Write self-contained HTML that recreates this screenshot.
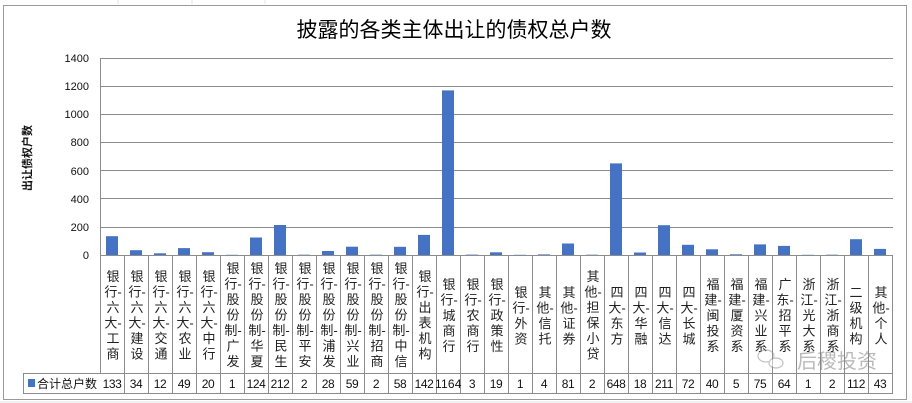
<!DOCTYPE html>
<html><head><meta charset="utf-8"><style>
body{margin:0;background:#fff}
svg{display:block;font-family:"Liberation Sans","Noto Sans CJK SC",sans-serif}
.l{font-size:13px;text-anchor:middle;fill:#222}
.v{font-size:12px;text-anchor:middle;fill:#111;letter-spacing:-0.4px}
.t{font-size:11px;text-anchor:end;fill:#111}
</style></head><body>
<svg width="912" height="403" viewBox="0 0 912 403">
<rect width="912" height="403" fill="#fff"/>
<g stroke="#e3e3e3" stroke-width="1">
<line x1="118" y1="0" x2="118" y2="4"/><line x1="192" y1="0" x2="192" y2="4"/><line x1="265" y1="0" x2="265" y2="4"/><line x1="0" y1="402" x2="912" y2="402"/>
</g>
<rect x="3.5" y="5.5" width="903" height="394" fill="#fff" stroke="#9a9a9a"/>
<text x="454" y="37" font-size="21" text-anchor="middle" fill="#000">披露的各类主体出让的债权总户数</text>
<text transform="translate(31,158) rotate(-90)" font-size="11" font-weight="bold" text-anchor="middle" fill="#111">出让债权户数</text>
<g stroke="#8c8c8c" stroke-width="1">
<line x1="100" y1="58.5" x2="893" y2="58.5"/><line x1="100" y1="86.5" x2="893" y2="86.5"/>
<line x1="100" y1="114.5" x2="893" y2="114.5"/><line x1="100" y1="142.5" x2="893" y2="142.5"/>
<line x1="100" y1="170.5" x2="893" y2="170.5"/><line x1="100" y1="198.5" x2="893" y2="198.5"/>
<line x1="100" y1="227.5" x2="893" y2="227.5"/><line x1="100" y1="255.5" x2="893" y2="255.5"/>
<line x1="100.5" y1="58" x2="100.5" y2="373"/>
<line x1="23" y1="373.5" x2="893" y2="373.5"/><line x1="23" y1="393.5" x2="893" y2="393.5"/>
<line x1="23.5" y1="373" x2="23.5" y2="393"/>
</g>
<g class="t">
<text x="89" y="62" class="t">1400</text><text x="89" y="90" class="t">1200</text><text x="89" y="118" class="t">1000</text>
<text x="89" y="146" class="t">800</text><text x="89" y="175" class="t">600</text><text x="89" y="203" class="t">400</text>
<text x="89" y="231" class="t">200</text><text x="89" y="259" class="t">0</text>
</g>
<rect x="28" y="379" width="7" height="8" fill="#4472c4"/>
<text x="37" y="388" font-size="12" fill="#111" textLength="60">合计总户数</text>
<g stroke="#8c8c8c">
<path d="M124.5 256V393M148.5 256V393M172.5 256V393M196.5 256V393M220.5 256V393M244.5 256V393M268.5 256V393M292.5 256V393M316.5 256V393M340.5 256V393M364.5 256V393M388.5 256V393M412.5 256V393M436.5 256V393M460.5 256V393M484.5 256V393M508.5 256V393M532.5 256V393M556.5 256V393M580.5 256V393M604.5 256V393M628.5 256V393M652.5 256V393M676.5 256V393M700.5 256V393M724.5 256V393M748.5 256V393M772.5 256V393M796.5 256V393M820.5 256V393M844.5 256V393M868.5 256V393M892.5 256V393"/>
</g>
<g fill="#4472c4">
<rect x="106" y="236.2" width="12" height="18.8"/>
<rect x="130" y="250.2" width="12" height="4.8"/>
<rect x="154" y="253.3" width="12" height="1.7"/>
<rect x="178" y="248.1" width="12" height="6.9"/>
<rect x="202" y="252.2" width="12" height="2.8"/>
<rect x="226" y="254.8" width="12" height="0.3"/>
<rect x="250" y="237.5" width="12" height="17.5"/>
<rect x="274" y="225" width="12" height="30"/>
<rect x="298" y="254.7" width="12" height="0.3"/>
<rect x="322" y="251" width="12" height="4"/>
<rect x="346" y="246.7" width="12" height="8.3"/>
<rect x="370" y="254.7" width="12" height="0.3"/>
<rect x="394" y="246.8" width="12" height="8.2"/>
<rect x="418" y="234.9" width="12" height="20.1"/>
<rect x="442" y="90.4" width="12" height="164.6"/>
<rect x="466" y="254.6" width="12" height="0.4"/>
<rect x="490" y="252.3" width="12" height="2.7"/>
<rect x="514" y="254.8" width="12" height="0.3"/>
<rect x="538" y="254.4" width="12" height="0.6"/>
<rect x="562" y="243.5" width="12" height="11.5"/>
<rect x="586" y="254.7" width="12" height="0.3"/>
<rect x="610" y="163.4" width="12" height="91.6"/>
<rect x="634" y="252.5" width="12" height="2.5"/>
<rect x="658" y="225.2" width="12" height="29.8"/>
<rect x="682" y="244.8" width="12" height="10.2"/>
<rect x="706" y="249.3" width="12" height="5.7"/>
<rect x="730" y="254.3" width="12" height="0.7"/>
<rect x="754" y="244.4" width="12" height="10.6"/>
<rect x="778" y="245.9" width="12" height="9.1"/>
<rect x="802" y="254.8" width="12" height="0.3"/>
<rect x="826" y="254.7" width="12" height="0.3"/>
<rect x="850" y="239.2" width="12" height="15.8"/>
<rect x="874" y="248.9" width="12" height="6.1"/>
</g>
<g class="v">
<text x="112" y="388">133</text><text x="136" y="388">34</text><text x="160" y="388">12</text><text x="184" y="388">49</text><text x="208" y="388">20</text><text x="232" y="388">1</text><text x="256" y="388">124</text><text x="280" y="388">212</text><text x="304" y="388">2</text><text x="328" y="388">28</text><text x="352" y="388">59</text><text x="376" y="388">2</text><text x="400" y="388">58</text><text x="424" y="388">142</text><text x="448" y="388" textLength="26">1164</text><text x="472" y="388">3</text><text x="496" y="388">19</text><text x="520" y="388">1</text><text x="544" y="388">4</text><text x="568" y="388">81</text><text x="592" y="388">2</text><text x="616" y="388">648</text><text x="640" y="388">18</text><text x="664" y="388">211</text><text x="688" y="388">72</text><text x="712" y="388">40</text><text x="736" y="388">5</text><text x="760" y="388">75</text><text x="784" y="388">64</text><text x="808" y="388">1</text><text x="832" y="388">2</text><text x="856" y="388">112</text><text x="880" y="388">43</text>
</g>
<g class="l">
<text x="113" y="281">银<tspan x="113" dy="15.5">行-</tspan><tspan x="113" dy="15.5">六</tspan><tspan x="113" dy="15.5">大-</tspan><tspan x="113" dy="15.5">工</tspan><tspan x="113" dy="15.5">商</tspan></text>
<text x="137" y="281">银<tspan x="137" dy="15.5">行-</tspan><tspan x="137" dy="15.5">六</tspan><tspan x="137" dy="15.5">大-</tspan><tspan x="137" dy="15.5">建</tspan><tspan x="137" dy="15.5">设</tspan></text>
<text x="161" y="281">银<tspan x="161" dy="15.5">行-</tspan><tspan x="161" dy="15.5">六</tspan><tspan x="161" dy="15.5">大-</tspan><tspan x="161" dy="15.5">交</tspan><tspan x="161" dy="15.5">通</tspan></text>
<text x="185" y="281">银<tspan x="185" dy="15.5">行-</tspan><tspan x="185" dy="15.5">六</tspan><tspan x="185" dy="15.5">大-</tspan><tspan x="185" dy="15.5">农</tspan><tspan x="185" dy="15.5">业</tspan></text>
<text x="209" y="281">银<tspan x="209" dy="15.5">行-</tspan><tspan x="209" dy="15.5">六</tspan><tspan x="209" dy="15.5">大-</tspan><tspan x="209" dy="15.5">中</tspan><tspan x="209" dy="15.5">行</tspan></text>
<text x="233" y="273">银<tspan x="233" dy="15.5">行-</tspan><tspan x="233" dy="15.5">股</tspan><tspan x="233" dy="15.5">份</tspan><tspan x="233" dy="15.5">制-</tspan><tspan x="233" dy="15.5">广</tspan><tspan x="233" dy="15.5">发</tspan></text>
<text x="257" y="273">银<tspan x="257" dy="15.5">行-</tspan><tspan x="257" dy="15.5">股</tspan><tspan x="257" dy="15.5">份</tspan><tspan x="257" dy="15.5">制-</tspan><tspan x="257" dy="15.5">华</tspan><tspan x="257" dy="15.5">夏</tspan></text>
<text x="281" y="273">银<tspan x="281" dy="15.5">行-</tspan><tspan x="281" dy="15.5">股</tspan><tspan x="281" dy="15.5">份</tspan><tspan x="281" dy="15.5">制-</tspan><tspan x="281" dy="15.5">民</tspan><tspan x="281" dy="15.5">生</tspan></text>
<text x="305" y="273">银<tspan x="305" dy="15.5">行-</tspan><tspan x="305" dy="15.5">股</tspan><tspan x="305" dy="15.5">份</tspan><tspan x="305" dy="15.5">制-</tspan><tspan x="305" dy="15.5">平</tspan><tspan x="305" dy="15.5">安</tspan></text>
<text x="329" y="273">银<tspan x="329" dy="15.5">行-</tspan><tspan x="329" dy="15.5">股</tspan><tspan x="329" dy="15.5">份</tspan><tspan x="329" dy="15.5">制-</tspan><tspan x="329" dy="15.5">浦</tspan><tspan x="329" dy="15.5">发</tspan></text>
<text x="353" y="273">银<tspan x="353" dy="15.5">行-</tspan><tspan x="353" dy="15.5">股</tspan><tspan x="353" dy="15.5">份</tspan><tspan x="353" dy="15.5">制-</tspan><tspan x="353" dy="15.5">兴</tspan><tspan x="353" dy="15.5">业</tspan></text>
<text x="377" y="273">银<tspan x="377" dy="15.5">行-</tspan><tspan x="377" dy="15.5">股</tspan><tspan x="377" dy="15.5">份</tspan><tspan x="377" dy="15.5">制-</tspan><tspan x="377" dy="15.5">招</tspan><tspan x="377" dy="15.5">商</tspan></text>
<text x="401" y="273">银<tspan x="401" dy="15.5">行-</tspan><tspan x="401" dy="15.5">股</tspan><tspan x="401" dy="15.5">份</tspan><tspan x="401" dy="15.5">制-</tspan><tspan x="401" dy="15.5">中</tspan><tspan x="401" dy="15.5">信</tspan></text>
<text x="425" y="281">银<tspan x="425" dy="15.5">行-</tspan><tspan x="425" dy="15.5">出</tspan><tspan x="425" dy="15.5">表</tspan><tspan x="425" dy="15.5">机</tspan><tspan x="425" dy="15.5">构</tspan></text>
<text x="449" y="289">银<tspan x="449" dy="15.5">行-</tspan><tspan x="449" dy="15.5">城</tspan><tspan x="449" dy="15.5">商</tspan><tspan x="449" dy="15.5">行</tspan></text>
<text x="473" y="289">银<tspan x="473" dy="15.5">行-</tspan><tspan x="473" dy="15.5">农</tspan><tspan x="473" dy="15.5">商</tspan><tspan x="473" dy="15.5">行</tspan></text>
<text x="497" y="289">银<tspan x="497" dy="15.5">行-</tspan><tspan x="497" dy="15.5">政</tspan><tspan x="497" dy="15.5">策</tspan><tspan x="497" dy="15.5">性</tspan></text>
<text x="521" y="297">银<tspan x="521" dy="15.5">行-</tspan><tspan x="521" dy="15.5">外</tspan><tspan x="521" dy="15.5">资</tspan></text>
<text x="545" y="297">其<tspan x="545" dy="15.5">他-</tspan><tspan x="545" dy="15.5">信</tspan><tspan x="545" dy="15.5">托</tspan></text>
<text x="569" y="297">其<tspan x="569" dy="15.5">他-</tspan><tspan x="569" dy="15.5">证</tspan><tspan x="569" dy="15.5">券</tspan></text>
<text x="593" y="281">其<tspan x="593" dy="15.5">他-</tspan><tspan x="593" dy="15.5">担</tspan><tspan x="593" dy="15.5">保</tspan><tspan x="593" dy="15.5">小</tspan><tspan x="593" dy="15.5">贷</tspan></text>
<text x="617" y="297">四<tspan x="617" dy="15.5">大-</tspan><tspan x="617" dy="15.5">东</tspan><tspan x="617" dy="15.5">方</tspan></text>
<text x="641" y="297">四<tspan x="641" dy="15.5">大-</tspan><tspan x="641" dy="15.5">华</tspan><tspan x="641" dy="15.5">融</tspan></text>
<text x="665" y="297">四<tspan x="665" dy="15.5">大-</tspan><tspan x="665" dy="15.5">信</tspan><tspan x="665" dy="15.5">达</tspan></text>
<text x="689" y="297">四<tspan x="689" dy="15.5">大-</tspan><tspan x="689" dy="15.5">长</tspan><tspan x="689" dy="15.5">城</tspan></text>
<text x="713" y="289">福<tspan x="713" dy="15.5">建-</tspan><tspan x="713" dy="15.5">闽</tspan><tspan x="713" dy="15.5">投</tspan><tspan x="713" dy="15.5">系</tspan></text>
<text x="737" y="289">福<tspan x="737" dy="15.5">建-</tspan><tspan x="737" dy="15.5">厦</tspan><tspan x="737" dy="15.5">资</tspan><tspan x="737" dy="15.5">系</tspan></text>
<text x="761" y="289">福<tspan x="761" dy="15.5">建-</tspan><tspan x="761" dy="15.5">兴</tspan><tspan x="761" dy="15.5">业</tspan><tspan x="761" dy="15.5">系</tspan></text>
<text x="785" y="289">广<tspan x="785" dy="15.5">东-</tspan><tspan x="785" dy="15.5">招</tspan><tspan x="785" dy="15.5">平</tspan><tspan x="785" dy="15.5">系</tspan></text>
<text x="809" y="289">浙<tspan x="809" dy="15.5">江-</tspan><tspan x="809" dy="15.5">光</tspan><tspan x="809" dy="15.5">大</tspan><tspan x="809" dy="15.5">系</tspan></text>
<text x="833" y="289">浙<tspan x="833" dy="15.5">江-</tspan><tspan x="833" dy="15.5">浙</tspan><tspan x="833" dy="15.5">商</tspan><tspan x="833" dy="15.5">系</tspan></text>
<text x="856" y="297">二<tspan x="856" dy="15.5">级</tspan><tspan x="856" dy="15.5">机</tspan><tspan x="856" dy="15.5">构</tspan></text>
<text x="881" y="297">其<tspan x="881" dy="15.5">他-</tspan><tspan x="881" dy="15.5">个</tspan><tspan x="881" dy="15.5">人</tspan></text>
</g>
<g opacity="0.5">
<ellipse cx="766" cy="356" rx="8" ry="6" fill="none" stroke="#888" stroke-width="1.2"/>
<ellipse cx="776" cy="363" rx="7" ry="5" fill="#fff" stroke="#888" stroke-width="1.2"/>
<text x="797" y="368" font-size="20" fill="#777">后稷投资</text>
</g>
</svg>
</body></html>
